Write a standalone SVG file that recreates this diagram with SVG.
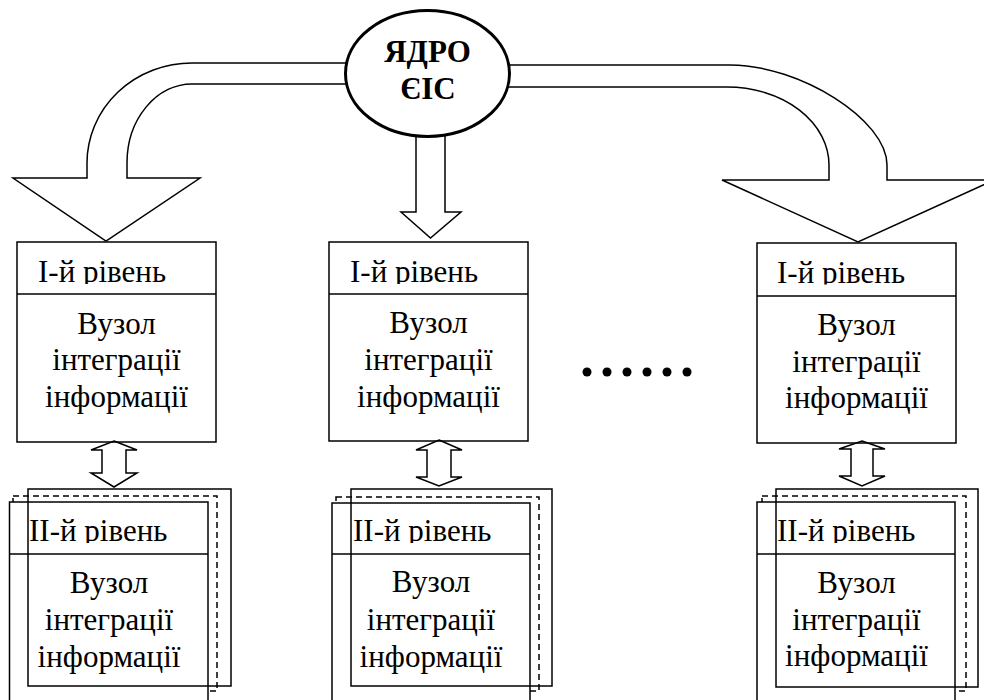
<svg xmlns="http://www.w3.org/2000/svg" width="984" height="700" viewBox="0 0 984 700">
<style>
.box{fill:none;stroke:#000;stroke-width:1.5}
.front{fill:#fff;stroke:#000;stroke-width:1.5}
.dash{fill:#fff;stroke:#000;stroke-width:1.5;stroke-dasharray:6 4}
.ln{stroke:#000;stroke-width:1.5}
.arrow{fill:#fff;stroke:#000;stroke-width:1.5;stroke-linejoin:miter}
.core{fill:#fff;stroke:#000;stroke-width:3}
.t{font-family:'Liberation Serif','Times New Roman',serif;font-size:31px;fill:#000}
.c{text-anchor:middle}
.b{font-family:'Liberation Serif','Times New Roman',serif;font-size:31px;font-weight:bold;text-anchor:middle}
</style>
<defs>
<clipPath id="clipT1" clipPathUnits="userSpaceOnUse"><rect x="0" y="242" width="984" height="42"/></clipPath>
<clipPath id="clipT3" clipPathUnits="userSpaceOnUse"><rect x="0" y="243" width="984" height="41.5"/></clipPath>
<clipPath id="clipB" clipPathUnits="userSpaceOnUse"><rect x="0" y="502" width="984" height="41"/></clipPath>
</defs>
<rect x="0" y="0" width="984" height="700" fill="#fff"/>

<g id="connectors">
<path class="arrow" d="M 400,63 H 192 A 105,100 0 0 0 87,163 V 178 H 13 L 106,241 L 200,178 H 127 V 163 A 65,79 0 0 1 192,84 H 400 Z"/>
<path class="arrow" d="M 460,65 H 730 C 800,65 887,120 887,165 V 180 H 994 L 858,242 L 722,180 H 829 V 165 A 102,78 0 0 0 727,87 H 460 Z"/>
<path class="arrow" d="M 416,110 V 212 H 401 L 430.5,238 L 461,212 H 445 V 110 Z"/>
<polygon class="arrow" points="114,441 137,450 126,450 126,473 137,473 114,487 91,473 102,473 102,450 91,450"/>
<polygon class="arrow" points="439,440 462,450 451,450 451,477 462,477 439,486 416,477 427,477 427,450 416,450"/>
<polygon class="arrow" points="862,441 885,449 873,449 873,476 885,476 862,486 839,476 851,476 851,449 839,449"/>
</g>

<g id="core">
<ellipse class="core" cx="427.5" cy="73.5" rx="82" ry="63"/>
<text class="b" x="427.5" y="62">ЯДРО</text>
<text class="b" x="428" y="99">ЄІС</text>
</g>

<g id="level1-a">
<rect class="box" x="17" y="242" width="199" height="200"/>
<line class="ln" x1="17" y1="294" x2="216" y2="294"/>
<text class="t" x="38" y="282" clip-path="url(#clipT1)">І-й рівень</text>
<text class="t c" x="116.5" y="334">Вузол</text>
<text class="t c" x="116.5" y="370">інтеграції</text>
<text class="t c" x="116.5" y="407">інформації</text>
</g>

<g id="level1-b">
<rect class="box" x="329" y="242" width="199" height="199"/>
<line class="ln" x1="329" y1="294" x2="528" y2="294"/>
<text class="t" x="350" y="282" clip-path="url(#clipT1)">І-й рівень</text>
<text class="t c" x="428.5" y="333">Вузол</text>
<text class="t c" x="428.5" y="370">інтеграції</text>
<text class="t c" x="428.5" y="407">інформації</text>
</g>

<g id="level1-c">
<rect class="box" x="757" y="243" width="199" height="200"/>
<line class="ln" x1="757" y1="296" x2="956" y2="296"/>
<text class="t" x="777" y="283" clip-path="url(#clipT3)">І-й рівень</text>
<text class="t c" x="856.5" y="335">Вузол</text>
<text class="t c" x="856.5" y="372">інтеграції</text>
<text class="t c" x="856.5" y="408">інформації</text>
</g>

<g id="dots">
<circle cx="587" cy="372" r="4.5"/>
<circle cx="607" cy="372" r="4.5"/>
<circle cx="627" cy="372" r="4.5"/>
<circle cx="647" cy="372" r="4.5"/>
<circle cx="667" cy="372" r="4.5"/>
<circle cx="687" cy="372" r="4.5"/>
</g>

<g id="level2-a">
<rect class="dash" x="13" y="496" width="204" height="195"/>
<rect class="front" x="9.5" y="502" width="198.5" height="210"/>
<rect class="box" x="28" y="489" width="203" height="197"/>
<line class="ln" x1="9.5" y1="554" x2="208" y2="554"/>
<text class="t" x="29" y="541" clip-path="url(#clipB)">ІІ-й рівень</text>
<text class="t c" x="109" y="593">Вузол</text>
<text class="t c" x="109" y="630">інтеграції</text>
<text class="t c" x="109" y="667">інформації</text>
</g>

<g id="level2-b">
<rect class="dash" x="336" y="497" width="203" height="194"/>
<rect class="front" x="332" y="503" width="198" height="210"/>
<rect class="box" x="351" y="489" width="201" height="197"/>
<line class="ln" x1="332" y1="554" x2="530" y2="554"/>
<text class="t" x="353" y="541" clip-path="url(#clipB)">ІІ-й рівень</text>
<text class="t c" x="431" y="592">Вузол</text>
<text class="t c" x="431" y="630">інтеграції</text>
<text class="t c" x="431" y="667">інформації</text>
</g>

<g id="level2-c">
<rect class="dash" x="762" y="496" width="204" height="195"/>
<rect class="front" x="757" y="502" width="198" height="210"/>
<rect class="box" x="776" y="489" width="202" height="198"/>
<line class="ln" x1="757" y1="554" x2="955" y2="554"/>
<text class="t" x="777" y="541" clip-path="url(#clipB)">ІІ-й рівень</text>
<text class="t c" x="856.5" y="593">Вузол</text>
<text class="t c" x="856.5" y="630">інтеграції</text>
<text class="t c" x="856.5" y="666">інформації</text>
</g>
</svg>
